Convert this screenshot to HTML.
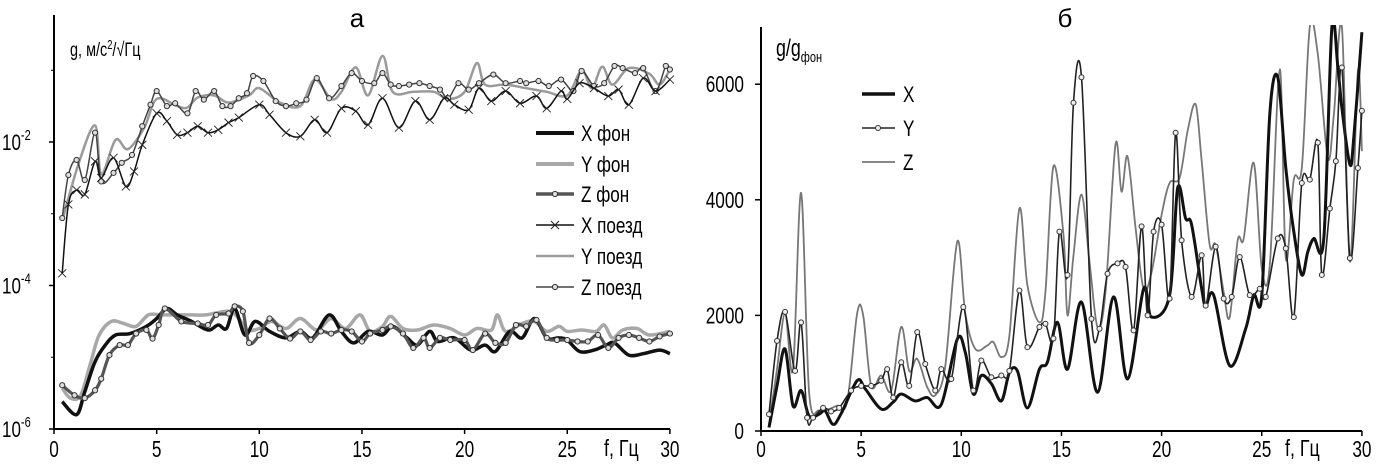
<!DOCTYPE html>
<html><head><meta charset="utf-8">
<style>
html,body{margin:0;padding:0;background:#fff;}
svg{display:block;font-family:"Liberation Sans",sans-serif;}
</style></head>
<body>
<svg id="chart" width="1386" height="473" viewBox="0 0 1386 473" xmlns="http://www.w3.org/2000/svg">
<g id="left"></g>
<g id="right"></g>
</svg>
<script>
// ---------- Panel A data (log10 of g) ----------
const xTrainF=[0.4,0.7,1.1,1.5,2.0,2.3,2.9,3.5,3.9,4.3,5.0,5.5,6.0,6.5,7.0,7.5,8.0,8.5,9.0,10.0,10.5,11.3,12.0,12.7,13.3,14.0,14.7,15.3,16.0,16.8,17.6,18.3,19.0,19.5,20.2,20.7,21.3,22.0,22.7,23.5,24.0,24.7,25.0,25.6,26.3,27.0,27.5,28.0,28.7,29.3,30.0];
const xTrainV=[-3.83,-2.87,-2.67,-2.73,-2.27,-2.5,-2.22,-2.62,-2.41,-2.04,-1.6,-1.71,-1.9,-1.87,-1.78,-1.87,-1.83,-1.73,-1.66,-1.48,-1.62,-1.87,-1.92,-1.69,-1.87,-1.53,-1.57,-1.76,-1.39,-1.8,-1.43,-1.69,-1.39,-1.48,-1.55,-1.25,-1.43,-1.29,-1.46,-1.36,-1.53,-1.29,-1.4,-1.18,-1.25,-1.36,-1.27,-1.48,-1.11,-1.29,-1.13];
const zTrainF=[0.4,0.7,1.1,1.5,2.0,2.3,2.9,3.3,3.8,4.3,4.7,5.0,5.5,5.9,6.5,6.9,7.3,7.8,8.2,8.6,9.0,9.4,9.7,10.2,10.8,11.3,11.8,12.3,12.8,13.4,14.0,14.5,15.0,15.6,16.0,16.4,16.8,17.3,17.8,18.3,18.8,19.2,19.7,20.2,20.7,21.4,22.0,22.7,23.0,23.6,24.1,24.7,25.3,25.7,26.3,26.8,27.3,27.7,28.3,28.7,29.3,29.8,30.0];
const zTrainV=[-3.06,-2.46,-2.25,-2.53,-1.87,-2.55,-2.43,-2.29,-2.18,-1.78,-1.48,-1.29,-1.5,-1.46,-1.6,-1.29,-1.41,-1.29,-1.5,-1.5,-1.39,-1.32,-1.08,-1.15,-1.43,-1.5,-1.46,-1.41,-1.11,-1.39,-1.22,-1.04,-1.15,-1.18,-1.04,-1.2,-1.22,-1.2,-1.18,-1.22,-1.27,-1.39,-1.18,-1.27,-1.18,-1.06,-1.18,-1.15,-1.18,-1.15,-1.22,-1.13,-1.29,-1.01,-1.22,-1.18,-0.94,-0.97,-1.04,-0.97,-1.29,-0.94,-0.99];
const yTrainF=[0.4,1.2,2.0,2.3,3.0,3.6,4.4,5.0,6.0,6.5,7.0,7.8,8.5,9.5,10.0,11.0,12.0,12.7,13.5,14.0,14.7,15.3,16.0,16.5,17.5,18.5,19.2,20.0,20.6,21.0,22.0,23.0,24.0,25.0,25.7,26.2,26.7,27.2,28.0,29.0,29.5,30.0];
const yTrainV=[-3.1,-2.3,-1.77,-2.45,-1.97,-2.1,-1.8,-1.4,-1.5,-1.52,-1.38,-1.35,-1.45,-1.35,-1.25,-1.45,-1.5,-1.13,-1.4,-1.3,-0.96,-1.35,-0.8,-1.3,-1.3,-1.3,-1.4,-1.3,-0.9,-1.2,-1.2,-1.25,-1.3,-1.35,-1.0,-1.25,-0.95,-1.2,-0.97,-1.05,-1.2,-0.99];
const xBgF=[0.4,1.1,1.5,2.0,2.5,3.0,3.7,4.5,5.0,5.5,6.0,6.7,7.5,8.0,8.4,8.8,9.3,9.8,10.5,11.3,12.0,12.6,13.4,14.0,14.6,15.3,16.0,16.5,17.2,17.7,18.3,18.7,19.5,20.3,21.0,21.5,22.2,22.8,23.4,24.0,24.6,25.0,25.6,26.3,26.9,27.3,28.0,28.7,29.5,30.0];
const xBgV=[-5.62,-5.8,-5.48,-5.06,-4.83,-4.69,-4.67,-4.57,-4.46,-4.32,-4.41,-4.5,-4.62,-4.55,-4.6,-4.32,-4.69,-4.5,-4.64,-4.73,-4.64,-4.73,-4.41,-4.64,-4.8,-4.64,-4.69,-4.57,-4.73,-4.83,-4.64,-4.78,-4.73,-4.9,-4.83,-4.92,-4.64,-4.73,-4.46,-4.73,-4.73,-4.76,-4.92,-4.9,-4.83,-4.8,-4.97,-4.95,-4.9,-4.95];
const yBgF=[0.4,0.8,1.3,1.8,2.2,2.8,3.4,4.0,4.6,5.2,6.0,6.7,7.4,8.5,9.0,9.4,10.0,10.6,11.3,12.0,12.8,13.5,14.2,14.9,15.4,16.0,16.4,17.0,17.7,18.5,19.3,20.0,20.6,21.3,21.6,22.0,22.8,23.4,24.0,24.6,25.0,25.7,26.4,26.8,27.2,27.7,28.4,29.0,30.0];
const yBgV=[-5.43,-5.57,-5.53,-5.06,-4.69,-4.5,-4.53,-4.57,-4.41,-4.41,-4.41,-4.41,-4.41,-4.36,-4.46,-4.62,-4.6,-4.5,-4.6,-4.46,-4.62,-4.46,-4.6,-4.41,-4.64,-4.57,-4.43,-4.6,-4.62,-4.55,-4.6,-4.69,-4.6,-4.62,-4.41,-4.64,-4.53,-4.5,-4.64,-4.57,-4.64,-4.62,-4.64,-4.55,-4.73,-4.62,-4.6,-4.69,-4.64];
const zBgF=[0.4,1.0,1.5,2.0,2.3,2.7,3.2,3.6,4.0,4.5,4.8,5.1,5.4,6.2,7.0,7.5,7.9,8.5,8.8,9.2,9.5,10.0,10.5,11.0,11.5,12.0,12.5,13.0,13.5,14.0,14.5,15.0,15.4,16.0,16.4,17.0,17.5,18.0,18.3,18.8,19.3,20.0,20.4,21.0,21.5,22.0,22.5,23.0,23.5,24.0,24.5,25.0,25.5,26.0,26.5,27.0,27.5,28.0,28.5,29.0,29.5,30.0];
const zBgV=[-5.39,-5.53,-5.57,-5.46,-5.3,-4.97,-4.83,-4.83,-4.67,-4.62,-4.74,-4.55,-4.32,-4.5,-4.53,-4.55,-4.41,-4.39,-4.29,-4.36,-4.8,-4.69,-4.46,-4.6,-4.74,-4.64,-4.76,-4.64,-4.67,-4.62,-4.64,-4.78,-4.67,-4.62,-4.57,-4.67,-4.87,-4.73,-4.87,-4.73,-4.76,-4.76,-4.9,-4.67,-4.8,-4.8,-4.55,-4.57,-4.48,-4.73,-4.76,-4.76,-4.78,-4.78,-4.69,-4.87,-4.73,-4.69,-4.73,-4.78,-4.71,-4.67];
const xTicksA=[0,5,10,15,20,25,30];
const yTicksA=[-6,-4,-2];
// ---------- Panel B data (g/g_фон) ----------
const bXF=[0.4,0.8,1.2,1.6,2.0,2.4,2.9,3.2,3.6,4.0,4.8,5.2,6.0,6.6,7.0,7.7,8.3,9.0,9.8,10.2,10.6,11.0,11.5,12.0,12.4,12.8,13.3,13.9,14.3,14.8,15.3,16.0,16.8,17.6,18.3,19.1,19.5,20.4,20.8,21.2,21.5,22.0,22.2,22.6,23.4,24.2,24.6,25.0,25.4,25.8,26.2,26.6,27.0,27.3,27.6,28.1,28.5,28.8,29.0,29.4,29.6,30.0];
const bXV=[60,780,1420,435,700,260,290,350,115,300,870,730,380,500,640,520,580,460,1590,1360,640,960,820,520,1010,1040,400,1070,1190,1880,1070,2230,670,2320,900,2460,1970,2350,4200,3680,3570,2460,2170,2350,1130,1770,2350,2350,5480,6120,4550,3450,2700,3100,3330,3330,6990,6290,5590,4610,5100,6900];
const bYF=[0.4,0.8,1.2,1.7,2.0,2.3,2.6,3.1,3.5,3.9,4.5,5.0,5.5,6.0,6.3,6.6,7.0,7.4,7.8,8.2,8.7,9.0,9.5,10.1,10.6,11.0,11.5,12.0,12.4,12.9,13.3,13.9,14.2,14.6,14.9,15.3,15.6,16.0,16.5,16.9,17.3,17.8,18.2,18.6,19.0,19.3,19.6,20.0,20.4,20.7,21.0,21.5,22.0,22.2,22.7,23.1,23.5,23.9,24.4,24.9,25.2,25.8,26.2,26.6,27.0,27.4,27.8,28.0,28.4,28.7,29.0,29.4,29.8,30.0];
const bYV=[290,1560,2060,1040,1880,230,230,400,340,400,700,780,780,870,1070,580,1190,780,1710,1160,700,1070,900,2145,700,1220,930,960,1040,2430,1450,1800,1855,1600,3450,2700,5680,6120,1940,1770,2720,2900,2840,1740,3540,2000,3450,3570,2290,5160,3300,2320,3040,2170,3190,2290,2320,3010,2350,2460,2320,3330,3160,1970,4290,4350,4990,2700,3850,4670,6290,2990,4550,5540];
const bZF=[0.4,0.8,1.2,1.6,2.0,2.4,2.9,3.4,3.8,4.3,4.8,5.1,5.5,6.0,6.5,7.0,7.4,7.8,8.3,8.7,9.2,9.8,10.2,10.7,11.3,11.6,12.0,12.4,12.9,13.3,13.9,14.2,14.6,15.1,15.3,15.6,16.0,16.4,16.8,17.2,17.7,18.0,18.3,18.7,19.1,19.5,20.0,20.4,20.9,21.3,21.7,22.0,22.4,22.7,23.1,23.4,23.8,24.1,24.6,25.0,25.4,25.9,26.2,26.6,27.0,27.4,27.8,28.3,28.6,29.0,29.4,29.8,30.0];
const bZV=[115,1070,2030,1070,4120,670,350,380,440,500,2030,2000,780,960,700,1800,1040,1250,760,620,1130,3280,2030,1420,1480,1540,1280,1650,3850,2520,1880,2400,4580,3390,2000,3040,4090,2930,1800,2400,4960,4140,4750,3510,2460,2750,3740,4290,4380,5190,5650,4670,3220,3220,2400,1970,3300,3330,4640,2810,2870,6260,2990,4350,4550,6990,6520,4720,5480,6990,2930,6230,4840];
const xTicksB=[0,5,10,15,20,25,30];
const yTicksB=[0,2000,4000,6000];

const NS="http://www.w3.org/2000/svg";
function mk(parent,tag,attrs){const e=document.createElementNS(NS,tag);for(const k in attrs)e.setAttribute(k,attrs[k]);parent.appendChild(e);return e;}
function smooth(pts){let d=`M${pts[0][0].toFixed(1)},${pts[0][1].toFixed(1)}`;
  for(let i=0;i<pts.length-1;i++){const p0=pts[Math.max(0,i-1)],p1=pts[i],p2=pts[i+1],p3=pts[Math.min(pts.length-1,i+2)];
    const c1=[p1[0]+(p2[0]-p0[0])/6,p1[1]+(p2[1]-p0[1])/6],c2=[p2[0]-(p3[0]-p1[0])/6,p2[1]-(p3[1]-p1[1])/6];
    d+=`C${c1[0].toFixed(1)},${c1[1].toFixed(1)} ${c2[0].toFixed(1)},${c2[1].toFixed(1)} ${p2[0].toFixed(1)},${p2[1].toFixed(1)}`;}
  return d;}
function label(parent,x,y,txt,size,anchor){
  const t=mk(parent,'text',{transform:`translate(${x},${y}) scale(0.82,1.12)`,'font-size':size,'text-anchor':anchor});
  t.textContent=txt;return t;}

// ---------- Panel A ----------
const L=document.getElementById('left');
const ax=f=>54+f*20.53, ay=l=>429-(l+6)*71.75;
function drawA(F,V,name,stroke,w,marker){
  const g=mk(L,'g',{});
  
  
  const pts=F.map((f,i)=>[ax(f),ay(V[i])]);
  mk(g,'path',{d:smooth(pts),fill:'none',stroke:stroke,'stroke-width':w});
  if(marker==='o')pts.forEach(p=>{const c=mk(g,'circle',{cx:p[0],cy:p[1],r:2.6,fill:'#ddd',stroke:'#333','stroke-width':1});});
  if(marker==='x')pts.forEach(p=>{const c=mk(g,'path',{d:`M${p[0]-4},${p[1]-4}L${p[0]+4},${p[1]+4}M${p[0]-4},${p[1]+4}L${p[0]+4},${p[1]-4}`,stroke:'#222','stroke-width':0.9});});
}
drawA(yBgF,yBgV,'y-background-series','#a8a8a8',3.5,null);
drawA(xBgF,xBgV,'x-background-series','#111',3.5,null);
drawA(zBgF,zBgV,'z-background-series','#555',3.2,'o');
drawA(yTrainF,yTrainV,'y-train-series','#9a9a9a',2.5,null);
drawA(zTrainF,zTrainV,'z-train-series','#444',1.5,'o');
drawA(xTrainF,xTrainV,'x-train-series','#111',1.5,'x');
mk(L,'line',{x1:54,y1:15,x2:54,y2:429,stroke:'#000','stroke-width':2});
mk(L,'line',{x1:54,y1:429,x2:670,y2:429,stroke:'#000','stroke-width':2});
xTicksA.forEach(t=>{const x=ax(t);mk(L,'line',{x1:x,y1:429,x2:x,y2:434,stroke:'#000','stroke-width':1.5});
  const tx=label(L,x,457,String(t),21,'middle');
  });
yTicksA.forEach(t=>{const y=ay(t);mk(L,'line',{x1:49,y1:y,x2:54,y2:y,stroke:'#000','stroke-width':1.5});
  const tx=mk(L,'text',{transform:`translate(2,${y+8}) scale(0.85,1.12)`,'font-size':20});tx.textContent='10';
  const s=mk(tx,'tspan',{dy:-9,'font-size':13});s.textContent=t;
  });
[-5,-3,-1].forEach(t=>{const y=ay(t);mk(L,'line',{x1:51,y1:y,x2:54,y2:y,stroke:'#000','stroke-width':1});});

// ---------- Panel B ----------
const R=document.getElementById('right');
const bx=f=>761+f*20.03, by=v=>431-v*0.0578;
const clip=mk(R,'clipPath',{id:'cb'});mk(clip,'rect',{x:761,y:25,width:610,height:410});
const gb=mk(R,'g',{'clip-path':'url(#cb)'});
function drawB(F,V,name,stroke,w,marker){
  const g=mk(gb,'g',{});
  
  
  const pts=F.map((f,i)=>[bx(f),by(V[i])]);
  mk(g,'path',{d:smooth(pts),fill:'none',stroke:stroke,'stroke-width':w});
  if(marker)pts.forEach(p=>{const c=mk(g,'circle',{cx:p[0],cy:p[1],r:2.5,fill:'#eee',stroke:'#333','stroke-width':1});});
}
drawB(bZF,bZV,'z-ratio-series','#777',1.8,false);
drawB(bXF,bXV,'x-ratio-series','#111',3,false);
drawB(bYF,bYV,'y-ratio-series','#222',1.6,true);
mk(R,'line',{x1:761,y1:27,x2:761,y2:431,stroke:'#000','stroke-width':2});
mk(R,'line',{x1:761,y1:431,x2:1362,y2:431,stroke:'#000','stroke-width':2});
xTicksB.forEach(t=>{const x=bx(t);mk(R,'line',{x1:x,y1:431,x2:x,y2:436,stroke:'#000','stroke-width':1.5});
  const tx=label(R,x,457,String(t),21,'middle');
  });
yTicksB.forEach(t=>{const y=by(t);mk(R,'line',{x1:755,y1:y,x2:761,y2:y,stroke:'#000','stroke-width':1.5});
  const tx=label(R,744,y+8,String(t),21,'end');
  });
</script>
<svg style="position:absolute;left:0;top:0" width="1386" height="473">
<g font-family="Liberation Sans, sans-serif">
<text x="357" y="27" font-size="26" text-anchor="middle">а</text>
<text x="1065" y="27" font-size="26" text-anchor="middle">б</text>
<text transform="translate(70,56) scale(0.85,1.15)" font-size="17">g, м/с<tspan dy="-6" font-size="11">2</tspan><tspan dy="6">/√Гц</tspan></text>
<text transform="translate(776,56) scale(0.85,1.15)" font-size="21">g/g<tspan dy="5" font-size="13">фон</tspan></text>
<text transform="translate(604,456) scale(0.85,1.12)" font-size="21">f,  Гц</text>
<text transform="translate(1285,456) scale(0.85,1.12)" font-size="21">f,  Гц</text>
<g font-size="19">
<g><line x1="536" y1="133" x2="574" y2="133" stroke="#111" stroke-width="4"/><text transform="translate(581,141) scale(0.9,1.15)">X фон</text></g>
<g><line x1="536" y1="164" x2="574" y2="164" stroke="#a8a8a8" stroke-width="4"/><text transform="translate(581,172) scale(0.9,1.15)">Y фон</text></g>
<g><line x1="536" y1="194" x2="574" y2="194" stroke="#555" stroke-width="3.5"/><circle cx="555" cy="194" r="2.6" fill="#ddd" stroke="#333"/><text transform="translate(581,202) scale(0.9,1.15)">Z фон</text></g>
<g><line x1="536" y1="225" x2="574" y2="225" stroke="#111" stroke-width="1.5"/><path d="M551,221L559,229M551,229L559,221" stroke="#222"/><text transform="translate(581,233) scale(0.9,1.15)">X поезд</text></g>
<g><line x1="536" y1="256" x2="574" y2="256" stroke="#9a9a9a" stroke-width="2.5"/><text transform="translate(581,264) scale(0.9,1.15)">Y поезд</text></g>
<g><line x1="536" y1="287" x2="574" y2="287" stroke="#444" stroke-width="1.5"/><circle cx="555" cy="287" r="2.6" fill="#ddd" stroke="#333"/><text transform="translate(581,295) scale(0.9,1.15)">Z поезд</text></g>
</g>
<g font-size="19">
<g><line x1="862" y1="94" x2="895" y2="94" stroke="#111" stroke-width="3.5"/><text transform="translate(903,102) scale(0.9,1.15)">X</text></g>
<g><line x1="862" y1="128" x2="895" y2="128" stroke="#222" stroke-width="1.6"/><circle cx="878" cy="128" r="2.5" fill="#eee" stroke="#333"/><text transform="translate(903,136) scale(0.9,1.15)">Y</text></g>
<g><line x1="862" y1="162" x2="895" y2="162" stroke="#777" stroke-width="1.8"/><text transform="translate(903,170) scale(0.9,1.15)">Z</text></g>
</g>
</g>
</svg>
</body></html>
